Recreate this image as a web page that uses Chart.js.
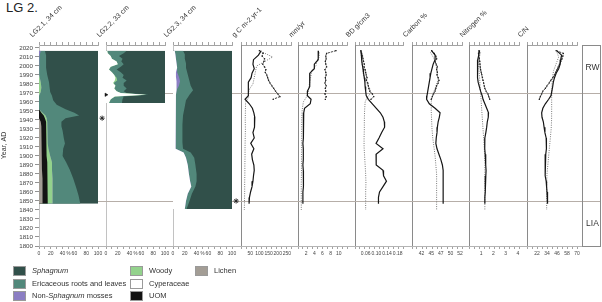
<!DOCTYPE html>
<html>
<head>
<meta charset="utf-8">
<title>LG 2.</title>
<script src="https://cdn.jsdelivr.net/npm/chart.js@4.4.1/dist/chart.umd.min.js"></script>
<style>
  html, body { margin:0; padding:0; background:#fff; }
  body { width:602px; height:302px; position:relative; overflow:hidden; font-family:'Liberation Sans', Arial, Helvetica, sans-serif; color:#333; }
  .abs { position:absolute; }
  .hdr { position:absolute; font-size:7px; line-height:8px; height:8px; white-space:nowrap; transform-origin:0 100%; transform:rotate(-45deg); color:#333; }
  .sw { position:absolute; width:13px; height:10px; box-sizing:border-box; border:1px solid #9a9a9a; }
  .lt { position:absolute; font-size:7.5px; line-height:10px; white-space:nowrap; color:#333; }
  .zl { position:absolute; z-index:5; width:19px; text-align:center; font-size:8.5px; line-height:10px; color:#333; }
</style>
</head>
<body>
<div class="abs" style="left:6px;top:1px;font-size:13px;line-height:14px;color:#222;">LG 2.</div>
<div class="zl" style="left:583px;top:62px;">RW</div>
<div class="zl" style="left:583px;top:218px;">LIA</div>
<script>
// ================= DATA =================
const yearTicks = [1800,1810,1820,1830,1840,1850,1860,1870,1880,1890,1900,1910,1920,1930,1940,1950,1960,1970,1980,1990,2000,2010,2020];
const zoneYears = [1970, 1850];

// --- Core LG2.1 macrofossils (%) ---
const p1Years  = [2017,2012,2005,1998,1990,1982,1976,1971,1967,1962,1957,1952,1948,1945,1942,1938,1933,1928,1920,1914,1908,1900,1893,1885,1875,1865,1856,1847];
const p1Lichen = [0,0,0,0,0,0,0,0,0,0,0,0,0,0,0,3,4,5,5,5,5,5,5,5,6,6,6,6];
const p1UOM    = [0,0,0,0,0,0,0,0,0,0,0,0,4,8,10,9,8,8,8,8,8,8,9,9,9,9,9,9];
const p1Woody  = [0,0,0,0,1,3,4,3,0,0,0,0,2,3,3,2,2,2,2,2,3,6,8,8,8,8,8,8];
const p1NonSph = [3,1,0,0,0,0,0,0,0,0,0,0,0,0,0,0,0,0,0,0,0,0,0,0,0,0,0,0];
const p1Eric   = [7,11,12,12,13,14,14,16,22,24,30,45,54,57,32,24,24,25,27,29,25,21,24,30,35,40,44,47];
const p1Sph    = [90,88,88,88,86,83,82,81,78,76,70,55,40,32,55,62,62,60,58,56,59,60,54,48,42,37,33,30];
const p1StarYear = 1942;

// --- Core LG2.2 macrofossils (%) ---
const p2Years  = [2017,2014,2011,2008,2005,2002,1999,1996,1993,1990,1987,1984,1981,1978,1975,1972,1970,1968,1966,1963,1959];
const p2Cyper  = [2,3,8,10,18,20,8,5,10,14,16,15,12,16,14,18,25,68,15,8,5];
const p2Woody  = [0,0,0,0,0,0,0,0,0,0,2,4,1,0,0,0,0,0,0,0,0];
const p2Eric   = [33,27,14,18,8,10,17,13,15,16,10,16,17,14,21,12,10,4,15,20,22];
const p2Sph    = [65,70,78,72,74,70,75,82,75,70,72,65,70,70,65,70,65,28,70,72,73];
const p2MarkYear = 1968;

// --- Core LG2.3 macrofossils (%) ---
const p3Years  = [2017,2013,2008,2003,1998,1993,1988,1983,1978,1973,1968,1962,1955,1945,1935,1925,1915,1908,1904,1898,1890,1880,1872,1866,1858,1850,1841];
const p3Cyper  = [3,4,5,6,7,5,5,6,6,6,5,5,5,4,4,4,4,5,18,22,25,27,29,31,25,22,20];
const p3NonSph = [0,0,0,0,0,2,5,6,4,0,0,0,0,0,0,0,0,0,0,0,0,0,0,0,0,0,0];
const p3Eric   = [14,16,15,16,15,17,16,16,20,28,23,17,15,13,12,12,12,12,12,14,13,13,11,7,7,6,3];
const p3Sph    = [83,80,80,78,78,76,74,72,70,66,72,78,80,83,84,84,84,83,70,64,62,60,60,62,68,72,77];
const p3StarYear = 1850;

// --- Line records: years per core ---
const years21 = [2017,2012,2007,2002,1997,1992,1987,1982,1977,1972,1967,1963,1958,1953,1948,1943,1938,1932,1926,1920,1914,1908,1902,1896,1890,1884,1878,1872,1866,1860,1854,1847];
const years22 = [2017,2014,2011,2008,2005,2002,1999,1996,1993,1990,1987,1984,1981,1978,1975,1972,1969,1966,1963];
const years23 = [2015,2010,2005,2000,1995,1990,1985,1980,1975,1970,1965,1960,1950,1940,1930,1920,1910,1900,1890,1880,1870,1860,1850,1840];

// g C m-2 yr-1
const gc21 = [110,95,68,65,72,60,55,40,40,40,40,22,45,62,70,75,75,72,65,72,53,70,58,62,70,72,68,65,60,52,46,44];
const gc22 = [100,120,115,128,125,118,128,135,132,140,145,150,158,168,178,188,200,212,175];
const gc23 = [120,172,130,85,80,75,70,65,48,40,42,25,24,23,24,23,22,22,21,21,20,20,19,18];
// mm/yr
const mm21 = [5.0,5.0,4.9,4.0,4.0,2.9,2.9,2.9,2.8,2.3,2.3,3.2,3.0,1.6,1.4,1.4,1.3,1.3,1.3,1.3,1.2,1.3,1.3,1.3,1.2,1.3,1.4,1.3,1.3,1.2,1.2,1.2];
const mm22 = [9.3,7.0,6.8,6.9,6.7,6.8,7.0,6.6,6.8,6.9,6.7,6.8,6.6,6.9,6.7,6.8,6.6,6.9,6.7];
const mm23 = [5.2,5.2,4.5,4.4,3.3,3.2,3.0,2.8,2.6,2.5,2.0,1.3,1.0,0.9,0.9,0.9,0.9,0.85,0.85,0.85,0.8,0.8,0.8,0.8];
// BD g/cm3
const bd21 = [0.042,0.044,0.045,0.047,0.05,0.052,0.055,0.057,0.058,0.06,0.062,0.07,0.085,0.1,0.115,0.125,0.13,0.131,0.12,0.11,0.099,0.125,0.099,0.099,0.1,0.125,0.127,0.138,0.125,0.112,0.108,0.108];
const bd22 = [0.042,0.045,0.048,0.05,0.052,0.055,0.054,0.058,0.06,0.062,0.065,0.063,0.068,0.07,0.072,0.075,0.085,0.09,0.08];
const bd23 = [0.042,0.044,0.045,0.048,0.05,0.052,0.055,0.065,0.075,0.08,0.065,0.058,0.056,0.055,0.055,0.054,0.054,0.056,0.058,0.06,0.061,0.06,0.06,0.06];
// Carbon %
const c21 = [45.1,46.0,46.0,45.5,45.2,44.9,44.7,44.5,44.3,44.1,43.9,43.8,44.5,46.0,47.3,47.1,46.8,46.6,46.5,46.3,46.2,46.5,47.0,47.5,47.9,48.1,48.1,48.1,48.1,48.1,48.1,48.1];
const c22 = [45.1,45.8,46.2,46.4,46.0,46.3,46.6,46.4,46.6,46.5,46.8,47.0,46.8,46.4,46.2,46.0,45.6,45.3,45.0];
const c23 = [44.8,45.5,46.0,46.3,46.5,46.6,46.8,46.4,46.0,45.5,45.2,45.0,45.0,45.1,45.2,45.4,45.7,46.0,46.2,46.4,46.4,46.4,46.4,46.4];
// Nitrogen %
const n21 = [0.87,0.8,0.72,0.7,0.68,0.7,0.72,0.75,0.85,0.95,1.08,1.15,1.3,1.45,1.6,1.58,1.5,1.45,1.38,1.3,1.28,1.3,1.33,1.36,1.38,1.4,1.38,1.35,1.33,1.32,1.3,1.3];
const n22 = [0.82,0.78,0.8,0.85,0.88,0.9,0.92,0.95,1.0,1.05,1.1,1.15,1.2,1.25,1.3,1.4,1.55,1.62,1.7];
const n23 = [0.95,0.85,0.8,0.8,0.82,0.85,0.88,0.9,0.92,0.95,0.98,1.0,1.05,1.1,1.15,1.2,1.25,1.28,1.3,1.3,1.3,1.3,1.3,1.3];
// C/N
const cn21 = [45.6,51.5,50.5,49.8,48,45,43,41.6,40.8,39.8,38.8,36,32,29,27.6,28,29.6,30.5,31.5,33,33.6,33,32.5,32,31.6,31.6,32,33,33.5,34,34.5,34.8];
const cn22 = [45,53.6,53,52,50.5,49,47.5,46,44.5,43,41,38.5,36.5,34,32,29,27.6,26,24.8];
const cn23 = [46,48,46,44,42,41,40.5,40,40,39.8,39.6,39.6,39.6,39.5,39,38,37,36,35,34,33.6,33.6,33.6,33.6];

// --- tick labels ---
const pctTickVals = [0,20,40,50,60,80,100];
const pctTickLabels = ['0','20','40','%','60','80','100'];
const gcTickVals = [50,100,150,200,250];
const gcTickLabels = ['50','100','150','200','250'];
const mmTickVals = [2,4,6,8,10];
const mmTickLabels = ['2','4','6','8','10'];
const bdTickVals = [0.06,0.10,0.14,0.18];
const bdTickLabels = ['0.06','0.10','0.14','0.18'];
const cTickVals = [42.5,45,47.5,50,52.5];
const cTickLabels = ['42','45','47','50','52'];
const nTickVals = [1,2,3,4];
const nTickLabels = ['1','2','3','4'];
const cnTickVals = [22,34,46,58,70];
const cnTickLabels = ['22','34','46','58','70'];

const headers = ['LG2.1, 34 cm','LG2.2, 33 cm','LG2.3, 34 cm','g C m-2 yr-1','mm/yr','BD g/cm3','Carbon %','Nitrogen %','C/N'];
const legendLabels = ['<i>Sphagnum</i>','Ericaceous roots and leaves','Non-<i>Sphagnum</i> mosses','Woody','Cyperaceae','UOM','Lichen'];
const legendKeys = ['sph','eric','nonsph','woody','cyper','uom','lichen'];

// ================= STYLE =================
const FONT = "'Liberation Sans', Arial, Helvetica, sans-serif";
Chart.defaults.font.family = FONT;
Chart.defaults.color = '#444';
const COL = {sph:'#31504a', eric:'#52887b', nonsph:'#8b7ec3', woody:'#93d28c', cyper:'#ffffff', uom:'#131313', lichen:'#a39d95'};
const RULER = '#8c8c8c', SEP_LIGHT = '#c2c2c2', SEP_DARK = '#8a8a8a', ZONE = '#b6aea8', FRAME = '#b4b4b4';
const YMIN = 1800, YMAX = 2023.3;
const TOP = 30, H = 240, PAD_TOP = 11, PAD_BOTTOM = 8, TOP_AX = 4, BOT_AX = 16;

function rulerTicks(min, max) {
  const t = [];
  for (let i = 0; i <= 10; i++) t.push({value: min + (max - min) * i / 10, lbl: '', mark: true});
  return t;
}
function bottomTicks(p) {
  const t = rulerTicks(p.min, p.max);
  p.tv.forEach((v, i) => t.push({value: v, lbl: p.tl[i], mark: false, small: p.tl[i] === '%'}));
  t.sort((a, b) => a.value - b.value);
  return t;
}
function frame(cellW, zones, box) {
  return { id: 'frame', beforeDatasetsDraw(chart) {
    const ctx = chart.ctx, a = chart.chartArea, y = chart.scales.y;
    const x0 = a.left, x1 = a.left + cellW;
    ctx.save(); ctx.lineWidth = 1;
    ctx.strokeStyle = ZONE;
    zones.forEach(yr => { const py = Math.round(y.getPixelForValue(yr)) + 0.5; ctx.beginPath(); ctx.moveTo(x0, py); ctx.lineTo(x1, py); ctx.stroke(); });
    ctx.strokeStyle = FRAME;
    const pb = Math.round(a.bottom) + 0.5;
    ctx.beginPath(); ctx.moveTo(x0, pb); ctx.lineTo(x1, pb); ctx.stroke();
    if (box) { ctx.strokeStyle = SEP_DARK; ctx.strokeRect(Math.round(a.left) + 0.5, Math.round(a.top) + 0.5, Math.round(a.width) - 1, Math.round(a.height)); }
    ctx.restore();
  }};
}

const panels = [
  {kind:'area', left:39, right:98, cellRight:106, min:0, max:100, first:true, sep:SEP_LIGHT, zones:[zoneYears[1]],
   years:p1Years, series:[['lichen',p1Lichen],['uom',p1UOM],['woody',p1Woody],['nonsph',p1NonSph],['eric',p1Eric],['sph',p1Sph]],
   tv:pctTickVals, tl:pctTickLabels, marks:[{x:107, y:p1StarYear, style:'star'}]},
  {kind:'area', left:106, right:165, cellRight:173, min:0, max:100, sep:SEP_LIGHT, zones:zoneYears,
   years:p2Years, series:[['cyper',p2Cyper],['woody',p2Woody],['eric',p2Eric],['sph',p2Sph]],
   tv:pctTickVals, tl:pctTickLabels, marks:[{x:0, y:p2MarkYear, style:'triangle'}]},
  {kind:'area', left:173, right:232, cellRight:241, min:0, max:100, sep:SEP_LIGHT, zones:zoneYears,
   years:p3Years, series:[['cyper',p3Cyper],['nonsph',p3NonSph],['eric',p3Eric],['sph',p3Sph]],
   tv:pctTickVals, tl:pctTickLabels, marks:[{x:107, y:p3StarYear, style:'star'}]},
  {kind:'line', left:241, right:291, cellRight:298, min:0, max:272, sep:SEP_DARK, zones:zoneYears, v:[gc21,gc22,gc23], tv:gcTickVals, tl:gcTickLabels},
  {kind:'line', left:298, right:347, cellRight:355, min:0, max:12, sep:SEP_DARK, zones:zoneYears, v:[mm21,mm22,mm23], tv:mmTickVals, tl:mmTickLabels},
  {kind:'line', left:355, right:403, cellRight:412, min:0.02, max:0.2, sep:SEP_DARK, zones:zoneYears, v:[bd21,bd22,bd23], tv:bdTickVals, tl:bdTickLabels},
  {kind:'line', left:412, right:462, cellRight:469, min:40, max:53, sep:SEP_DARK, zones:zoneYears, v:[c21,c22,c23], tv:cTickVals, tl:cTickLabels},
  {kind:'line', left:469, right:519, cellRight:527, min:0, max:4.1, sep:SEP_DARK, zones:zoneYears, v:[n21,n22,n23], tv:nTickVals, tl:nTickLabels},
  {kind:'line', left:527, right:577, cellRight:582, min:10, max:70, sep:SEP_DARK, zones:zoneYears, v:[cn21,cn22,cn23], tv:cnTickVals, tl:cnTickLabels}
];

function pts(years, vals) { return years.map((yr, k) => ({x: vals[k], y: yr})); }

function buildDatasets(p) {
  if (p.kind === 'area') {
    const ds = p.series.map(([key, vals]) => ({
      label: key, data: pts(p.years, vals), backgroundColor: COL[key], borderColor: COL[key],
      borderWidth: 0, pointRadius: 0, fill: 'origin', tension: 0
    }));
    p.marks.forEach(m => ds.push({
      label: 'marker', data: [{x: m.x, y: m.y}], stack: 'mk', order: -1, showLine: false, fill: false, clip: false,
      pointStyle: m.style, pointRadius: m.style === 'star' ? 2.6 : 2, pointRotation: m.style === 'triangle' ? 90 : 0,
      pointBackgroundColor: '#111', pointBorderColor: '#222', pointBorderWidth: m.style === 'star' ? 0.9 : 0.5
    }));
    return ds;
  }
  return [
    {label:'LG2.3', data: pts(years23, p.v[2]), showLine:true, borderColor:'#7a7a7a', borderWidth:1, borderDash:[1,1.3], pointRadius:0, fill:false, order:3},
    {label:'LG2.2', data: pts(years22, p.v[1]), showLine:true, borderColor:'#2a2a2a', borderWidth:0.9, borderDash:[2.2,1], pointRadius:0.9, pointStyle:'rect', pointBackgroundColor:'#222', pointBorderWidth:0, fill:false, order:2},
    {label:'LG2.1', data: pts(years21, p.v[0]), showLine:true, borderColor:'#151515', borderWidth:1.2, pointRadius:0, fill:false, order:1}
  ];
}

function makePanel(p) {
  const divLeft = p.first ? 0 : p.left - 8;
  const divRight = p.cellRight + 10;
  const yw = p.first ? p.left - divLeft : 0;
  const w = divRight - divLeft;
  const wrap = document.createElement('div');
  wrap.style.cssText = 'position:absolute;left:' + divLeft + 'px;top:' + TOP + 'px;width:' + w + 'px;height:' + H + 'px;';
  const cv = document.createElement('canvas');
  cv.width = w; cv.height = H; cv.style.width = w + 'px'; cv.style.height = H + 'px';
  wrap.appendChild(cv); document.body.appendChild(wrap);
  const isArea = p.kind === 'area';
  new Chart(cv, {
    type: isArea ? 'line' : 'scatter',
    data: { datasets: buildDatasets(p) },
    options: {
      responsive: false, animation: false, events: [],
      indexAxis: isArea ? 'y' : 'x',
      layout: { padding: { left: p.left - divLeft - yw, right: divRight - p.right, top: PAD_TOP, bottom: PAD_BOTTOM } },
      plugins: { legend: { display: false }, tooltip: { enabled: false }, title: { display: false } },
      scales: {
        x: {
          type: 'linear', position: 'bottom', min: p.min, max: p.max, bounds: 'data', stacked: isArea,
          afterBuildTicks: s => { s.ticks = bottomTicks(p); },
          afterFit: s => { s.height = BOT_AX; },
          border: { display: true, color: RULER, width: 0.8 },
          grid: { drawOnChartArea: false, drawTicks: true, tickLength: 3, lineWidth: 0.8,
                  tickColor: c => (c.tick && c.tick.mark === false) ? 'rgba(0,0,0,0)' : RULER },
          ticks: { autoSkip: false, maxRotation: 0, minRotation: 0, padding: 2, color: '#444',
                   font: c => ({ size: (c.tick && c.tick.small) ? 4.5 : 5, family: FONT }),
                   callback: (v, i, t) => t[i].lbl }
        },
        xTop: {
          type: 'linear', position: 'top', min: p.min, max: p.max, bounds: 'data',
          afterBuildTicks: s => { s.ticks = rulerTicks(p.min, p.max); },
          afterFit: s => { s.height = TOP_AX; },
          border: { display: true, color: RULER, width: 0.8 },
          grid: { drawOnChartArea: false, drawTicks: true, tickLength: 3, lineWidth: 0.8, color: RULER, tickColor: RULER },
          ticks: { display: false }
        },
        y: {
          type: 'linear', position: 'left', min: YMIN, max: YMAX, bounds: 'data', z: 1,
          afterBuildTicks: s => { s.ticks = yearTicks.map(v => ({ value: v })); },
          afterFit: s => { s.width = yw; },
          border: { display: true, color: p.sep, width: 1 },
          grid: { drawOnChartArea: false, drawTicks: !!p.first, tickLength: 4, lineWidth: 0.8, tickColor: '#777' },
          ticks: { display: !!p.first, autoSkip: false, padding: 2, color: '#444', font: { size: 6.2, family: FONT },
                   callback: v => String(v) },
          title: { display: !!p.first, text: 'Year, AD', color: '#333', font: { size: 7, family: FONT }, padding: 0 }
        }
      }
    },
    plugins: [frame(p.cellRight - p.left, p.zones, false)]
  });
}

panels.forEach(makePanel);

// zone box (RW / LIA)
(function () {
  const left = 582, right = 601, divLeft = 574, w = 36;
  const wrap = document.createElement('div');
  wrap.style.cssText = 'position:absolute;left:' + divLeft + 'px;top:' + TOP + 'px;width:' + w + 'px;height:' + H + 'px;';
  const cv = document.createElement('canvas');
  cv.width = w; cv.height = H; cv.style.width = w + 'px'; cv.style.height = H + 'px';
  wrap.appendChild(cv); document.body.appendChild(wrap);
  new Chart(cv, {
    type: 'scatter', data: { datasets: [] },
    options: {
      responsive: false, animation: false, events: [],
      layout: { padding: { left: left - divLeft, right: divLeft + w - right, top: PAD_TOP + TOP_AX, bottom: PAD_BOTTOM + BOT_AX } },
      plugins: { legend: { display: false }, tooltip: { enabled: false } },
      scales: { x: { display: false, min: 0, max: 1 }, y: { display: false, min: YMIN, max: YMAX } }
    },
    plugins: [frame(right - left, zoneYears, true)]
  });
})();

// panel headers (rotated)
panels.forEach((p, i) => {
  const d = document.createElement('div');
  d.className = 'hdr';
  d.textContent = headers[i];
  d.style.left = (p.left - 5) + 'px';
  d.style.top = (39 - 8) + 'px';
  document.body.appendChild(d);
});

// legend
const swX = [13, 130, 195], rowY = [266, 278.5, 291];
legendLabels.forEach((lab, i) => {
  const col = i < 3 ? 0 : (i < 6 ? 1 : 2), row = i < 6 ? i % 3 : 0;
  const sw = document.createElement('div');
  sw.className = 'sw';
  sw.style.left = swX[col] + 'px'; sw.style.top = rowY[row] + 'px';
  sw.style.background = COL[legendKeys[i]];
  document.body.appendChild(sw);
  const t = document.createElement('div');
  t.className = 'lt';
  t.innerHTML = lab;
  t.style.left = (swX[col] + 19) + 'px'; t.style.top = rowY[row] + 'px';
  document.body.appendChild(t);
});
</script>
</body>
</html>
